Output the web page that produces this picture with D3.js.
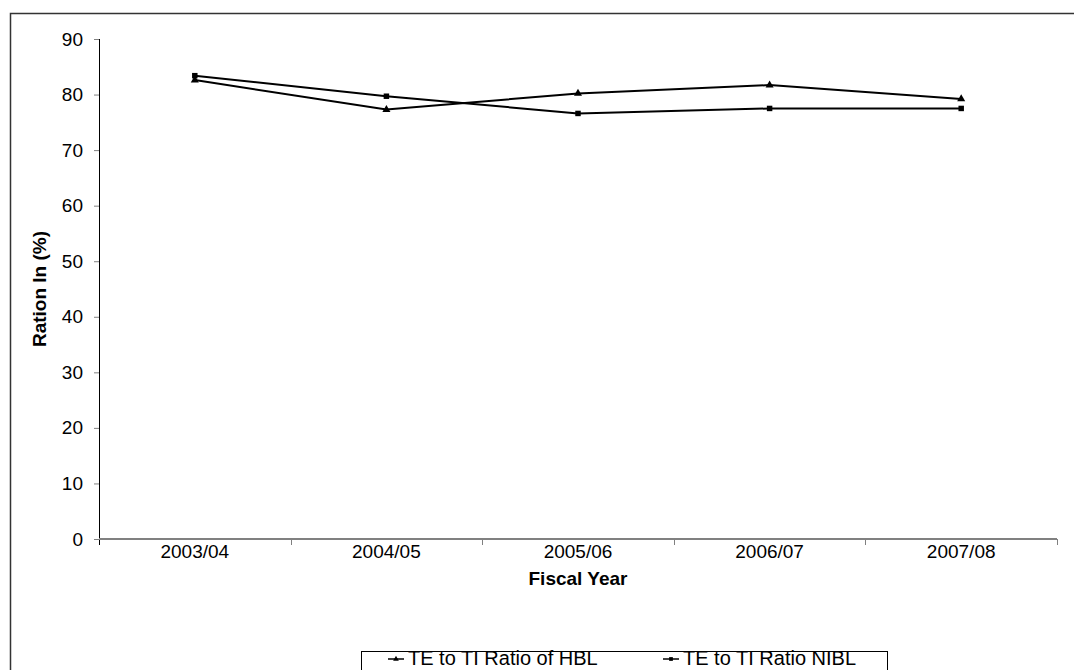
<!DOCTYPE html>
<html>
<head>
<meta charset="utf-8">
<script src="https://cdn.jsdelivr.net/npm/d3@7"></script>
<style>
  html, body { margin: 0; padding: 0; background: #fff; }
  svg { display: block; font-family: "Liberation Sans", Arial, sans-serif; }
</style>
</head>
<body>
<svg id="chart" width="1074" height="670"></svg>
<script>
// Fiscal years on the category axis
const years = ["2003/04", "2004/05", "2005/06", "2006/07", "2007/08"];
// Total expenses to total income ratio (%)
const hblRatio = [82.6, 77.3, 80.2, 81.7, 79.2];
const niblRatio = [83.4, 79.7, 76.6, 77.5, 77.5];
const yTicks = [0, 10, 20, 30, 40, 50, 60, 70, 80, 90];
const seriesNames = ["TE to TI Ratio of HBL", "TE to TI Ratio NIBL"];

const svg = d3.select("#chart");

// chart frame
svg.append("path")
  .attr("d", "M10.5,680 L10.5,13.5 L1080,13.5")
  .attr("fill", "none").attr("stroke", "#333").attr("stroke-width", 1.5);

const plot = { left: 99, right: 1057, top: 39, bottom: 539 };

const x = d3.scaleBand().domain(years).range([plot.left, plot.right]);
const y = d3.scaleLinear().domain([0, 90]).range([plot.bottom, plot.top]);

const fontSize = 19;

// y axis
const yAxis = svg.append("g")
  .attr("transform", `translate(${plot.left},0)`)
  .call(d3.axisLeft(y).tickValues(yTicks).tickSize(5).tickPadding(11));
yAxis.select(".domain").attr("stroke", "#000").attr("stroke-width", 1)
  .attr("d", `M0.5,${plot.top}V${plot.bottom + 6}`);
yAxis.selectAll(".tick line").attr("stroke", "#808080");
yAxis.selectAll(".tick text").attr("font-size", fontSize).attr("fill", "#000")
  .attr("font-family", "Liberation Sans, Arial, sans-serif");

// x axis with ticks on category boundaries
const xAxis = svg.append("g")
  .attr("transform", `translate(0,${plot.bottom})`)
  .call(d3.axisBottom(x).tickSize(0).tickPadding(6));
xAxis.select(".domain").attr("stroke", "#808080").attr("stroke-width", 2)
  .attr("d", `M${plot.left},0H${plot.right}`);
xAxis.selectAll(".tick text").attr("font-size", fontSize).attr("fill", "#000")
  .attr("font-family", "Liberation Sans, Arial, sans-serif");
const bounds = years.map(d => x(d)).concat([plot.right]).slice(1);
xAxis.selectAll(".bound").data(bounds).enter().append("line")
  .attr("class", "bound")
  .attr("x1", d => Math.round(d) + 0.5).attr("x2", d => Math.round(d) + 0.5)
  .attr("y1", 0).attr("y2", 6)
  .attr("stroke", "#808080");

// axis titles
svg.append("text")
  .attr("transform", `translate(46,${(plot.top + plot.bottom) / 2}) rotate(-90)`)
  .attr("text-anchor", "middle")
  .attr("font-size", fontSize).attr("font-weight", "bold")
  .text("Ration In (%)");
svg.append("text")
  .attr("x", (plot.left + plot.right) / 2).attr("y", 585)
  .attr("text-anchor", "middle")
  .attr("font-size", fontSize).attr("font-weight", "bold")
  .text("Fiscal Year");

// series lines
const line = d3.line()
  .x((d, i) => x(years[i]) + x.bandwidth() / 2)
  .y(d => y(d));

const triangle = d3.symbol().type(d3.symbolTriangle).size(28);
const square = d3.symbol().type(d3.symbolSquare).size(30);

function drawSeries(values, symbolGen) {
  svg.append("path").datum(values)
    .attr("d", line)
    .attr("fill", "none").attr("stroke", "#000").attr("stroke-width", 2);
  svg.selectAll(null).data(values).enter().append("path")
    .attr("d", symbolGen)
    .attr("transform", (d, i) => `translate(${x(years[i]) + x.bandwidth() / 2},${y(d)})`)
    .attr("fill", "#000");
}
drawSeries(niblRatio, square);
drawSeries(hblRatio, triangle);

// legend
const legend = svg.append("g");
legend.append("rect")
  .attr("x", 361.5).attr("y", 651.5).attr("width", 526).attr("height", 40)
  .attr("fill", "#fff").attr("stroke", "#000").attr("stroke-width", 1);
const legendItems = [
  { name: seriesNames[0], sym: triangle, x0: 388 },
  { name: seriesNames[1], sym: square, x0: 663 }
];
legendItems.forEach(it => {
  legend.append("line")
    .attr("x1", it.x0).attr("x2", it.x0 + 16)
    .attr("y1", 659).attr("y2", 659)
    .attr("stroke", "#000").attr("stroke-width", 1.5);
  legend.append("path").attr("d", it.sym.size(14)())
    .attr("transform", `translate(${it.x0 + 8},659)`).attr("fill", "#000");
  legend.append("text")
    .attr("x", it.x0 + 20).attr("y", 665)
    .attr("font-size", fontSize + 1)
    .text(it.name);
});
</script>
</body>
</html>
